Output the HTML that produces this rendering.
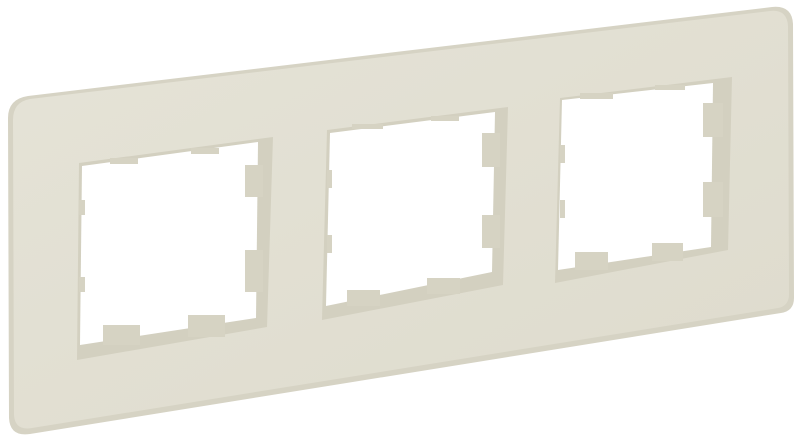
<!DOCTYPE html>
<html><head><style>html,body{margin:0;padding:0;background:#fff}svg{display:block}</style></head>
<body>
<svg width="800" height="441" viewBox="0 0 800 441" xmlns="http://www.w3.org/2000/svg">
<defs>
<linearGradient id="g" x1="0" y1="0" x2="1" y2="1">
<stop offset="0" stop-color="#e5e3d7"/><stop offset="1" stop-color="#dedbcd"/>
</linearGradient>
</defs>
<!-- plate -->
<path d="M28,96 L772,7 Q792,5 793,24 L794,298 Q794,311 781,313 L30,434 Q10,437 9,418 L8,118 Q8,99 28,96 Z" fill="#d6d3c4"/>
<path d="M30,99 L770,11 Q787,9 788,26 L789,294 Q789,306 778,308 L32,428 Q15,431 14,415 L13,120 Q13,102 30,99 Z" fill="url(#g)"/>
<!-- window 1 -->
<polygon points="79,163 273,137 267,327 77,360" fill="#d3d0c0"/>
<polygon points="82,166 258,142 256,318 80,345" fill="#fff"/>
<!-- window 2 -->
<polygon points="327,130 508,107 503,285 322,320" fill="#d3d0c0"/>
<polygon points="330,133 495,112 492,272 326,306" fill="#fff"/>
<!-- window 3 -->
<polygon points="560,98 732,77 728,250 555,283" fill="#d3d0c0"/>
<polygon points="562,100 713,83 711,247 558,270" fill="#fff"/>
<!-- tabs -->
<g fill="#d6d3c3">
<rect x="110" y="158" width="28" height="6"/><rect x="191" y="148" width="28" height="6"/>
<rect x="245" y="165" width="18" height="32"/><rect x="245" y="250" width="18" height="42"/>
<rect x="79" y="200" width="6" height="15"/><rect x="79" y="277" width="6" height="15"/>
<rect x="103" y="325" width="37" height="20"/><rect x="188" y="315" width="37" height="22"/>
<rect x="352" y="124" width="31" height="5"/><rect x="431" y="116" width="28" height="5"/>
<rect x="482" y="133" width="18" height="34"/><rect x="482" y="215" width="18" height="33"/>
<rect x="327" y="170" width="5" height="18"/><rect x="327" y="235" width="5" height="18"/>
<rect x="347" y="290" width="33" height="16"/><rect x="427" y="278" width="33" height="16"/>
<rect x="580" y="93" width="33" height="6"/><rect x="655" y="85" width="30" height="5"/>
<rect x="703" y="103" width="20" height="34"/><rect x="703" y="182" width="20" height="35"/>
<rect x="560" y="145" width="5" height="18"/><rect x="560" y="200" width="5" height="18"/>
<rect x="575" y="252" width="33" height="18"/><rect x="652" y="243" width="31" height="18"/>
</g>
</svg>
</body></html>
